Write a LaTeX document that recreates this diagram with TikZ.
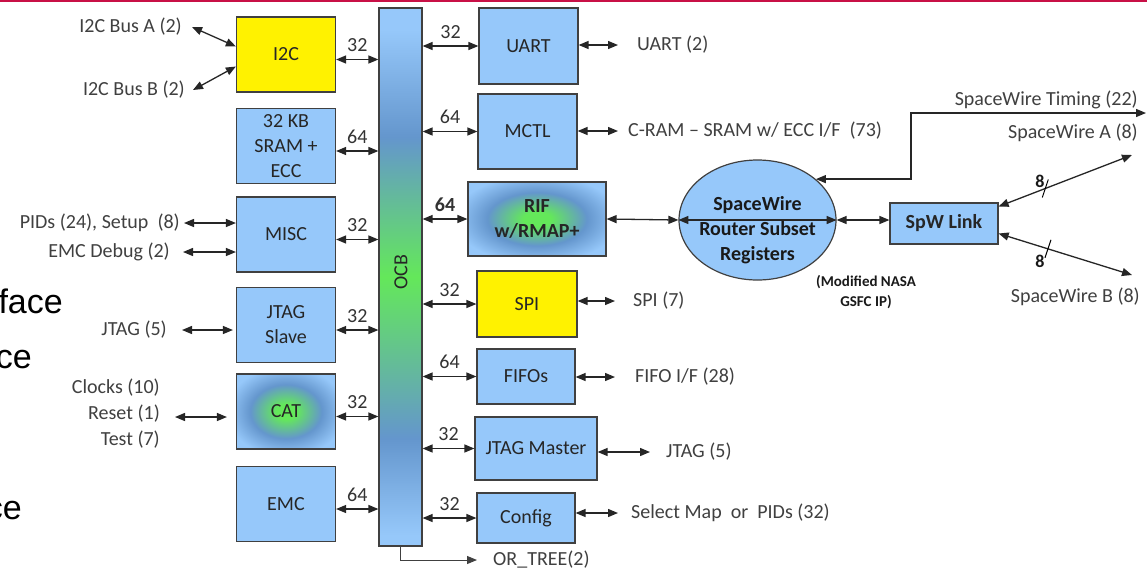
\documentclass[tikz,border=0pt]{standalone}
\usepackage{fontspec}
\setmainfont{Carlito}
\newfontfamily\slidefont{Liberation Sans}
\usetikzlibrary{arrows.meta,shapes.geometric,calc}

\definecolor{boxblue}{RGB}{150,200,250}
\definecolor{busblue}{RGB}{100,150,205}
\definecolor{busgreen}{RGB}{100,232,90}
\definecolor{boxline}{RGB}{64,64,64}
\definecolor{txtgray}{RGB}{64,64,64}
\definecolor{slidered}{RGB}{200,16,70}

\pgfdeclareverticalshading{ocbshade}{100bp}{color(0bp)=(boxblue); color(26bp)=(boxblue); color(35bp)=(busblue); color(50bp)=(busgreen); color(63bp)=(busblue); color(73bp)=(boxblue); color(100bp)=(boxblue)}
\pgfdeclareradialshading{glow}{\pgfpoint{0bp}{0bp}}{color(0bp)=(busgreen); color(5bp)=(busgreen); color(18bp)=(busblue); color(30bp)=(boxblue); color(50bp)=(boxblue)}

\tikzset{
  >={Triangle[length=10pt,width=8pt]},
  block/.style={draw=boxline, line width=1.2pt, fill=boxblue, inner sep=0pt, align=center,
    text=black!85, font=\fontsize{20}{25}\selectfont},
  lblock/.style={block, minimum width=99pt, minimum height=75pt},
  bus/.style={<->, line width=1.3pt, black!85},
  buswidth/.style={midway, above=6pt, inner sep=1pt, text=black!80, font=\fontsize{20}{24}\selectfont},
  lbl/.style={inner sep=0pt, text=txtgray, font=\fontsize{20}{26}\selectfont},
  boldtxt/.style={inner sep=0pt, text=black!90, align=center, font=\bfseries\fontsize{20}{25}\selectfont},
  slidetxt/.style={inner sep=0pt, anchor=base east, font=\slidefont\fontsize{34}{34}\selectfont}
}

\begin{document}
\begin{tikzpicture}[x=1pt, y=-1pt]
\def \xl {286}
\def \xb {400.5}

\useasboundingbox (0,0) rectangle (1147,571);
\clip (0,0) rectangle (1147,571);
\fill[white] (0,0) rectangle (1147,571);
\draw[slidered, line width=2.5pt] (0,1) -- (1147,1);

% slide text behind the picture
\node[slidetxt] (fraga) at (63,313) {face};
\node[slidetxt] (fragb) at (32,368) {ce};
\node[slidetxt] (fragc) at (22,519) {ce};

% OCB
\node[block, shade, shading=ocbshade, minimum width=43pt, minimum height=538pt] (ocb) at (\xb,277) {};
\node[lbl, rotate=90, text=black!85] (ocbtxt) at (401,272) {OCB};

% left column
\node[lblock, fill=yellow] (i2c) at (\xl,54.5) {I2C};
\node[lblock] (sram) at (\xl,146) {32 KB\\SRAM +\\ECC};
\node[lblock] (misc) at (\xl,234.5) {MISC};
\node[lblock] (jslave) at (\xl,325) {JTAG\\Slave};
\node[lblock, shade, shading=glow] (cat) at (\xl,411.5) {CAT};
\node[lblock] (emc) at (\xl,504) {EMC};

\foreach \blk/\wid in {i2c/32, sram/64, misc/32, jslave/32, cat/32, emc/64}
  \draw[bus] ([yshift=-5pt]\blk.east) -- ([yshift=-5pt]\blk.east -| ocb.west) node[buswidth] {\wid};

% left labels
\node[lbl, anchor=east] (busa) at (182,27) {I2C Bus A (2)};
\node[lbl, anchor=east] (busb) at (185,90) {I2C Bus B (2)};
\node[lbl, anchor=east] (pids) at (180,223) {PIDs (24), Setup~~(8)};
\node[lbl, anchor=east] (emcdbg) at (170,252) {EMC Debug (2)};
\node[lbl, anchor=east] (jtagl) at (167,330) {JTAG (5)};
\node[lbl, anchor=east, align=right] (catl) at (160,414) {Clocks (10)\\Reset (1)\\Test (7)};

\draw[bus] ([xshift=10pt]busa.east) -- ([yshift=8pt]i2c.west);
\draw[bus] ([xshift=8pt]busb.east) -- ([yshift=-12pt]i2c.west);
\draw[bus] ([xshift=4pt]pids.east) -- (pids.east -| misc.west);
\draw[bus] ([xshift=13pt]emcdbg.east) -- (emcdbg.east -| misc.west);
\draw[bus, shorten >=3pt] ([xshift=15pt]jtagl.east) -- (jtagl.east -| jslave.west);
\draw[bus, shorten >=9pt] ([xshift=15pt,yshift=-3pt]catl.east) -- ([yshift=-3pt]catl.east -| cat.west);

% right column
\node[block, minimum width=99pt, minimum height=76pt] (uart) at (528.5,46) {UART};
\node[block, minimum width=99pt, minimum height=75pt] (mctl) at (527.5,131.5) {MCTL};
\node[block, shade, shading=glow, minimum width=138pt, minimum height=74pt, font=\bfseries\fontsize{20}{25}\selectfont] (rif) at (537,219) {RIF\\w/RMAP+};
\node[block, fill=yellow, minimum width=100pt, minimum height=66pt] (spi) at (527,304) {SPI};
\node[block, minimum width=98pt, minimum height=55pt] (fifo) at (526,376.5) {FIFOs};
\node[block, minimum width=122pt, minimum height=63pt] (jmaster) at (536,448.5) {JTAG Master};
\node[block, minimum width=98pt, minimum height=50pt] (config) at (526,518) {Config};

\foreach \blk/\wid in {uart/32, mctl/64, spi/32, fifo/64, jmaster/32, config/32}
  \draw[bus] (\blk.west -| ocb.east) -- (\blk.west) node[buswidth] {\wid};
\draw[bus] (rif.west -| ocb.east) -- (rif.west) node[buswidth, font=\bfseries\fontsize{20}{24}\selectfont] {64};

% right labels
\node[lbl, anchor=west] (uartl) at (637,45) {UART (2)};
\node[lbl, anchor=west] (mctll) at (628,131) {C-RAM -- SRAM w/ ECC I/F~~(73)};
\node[lbl, anchor=west] (spil) at (633,301) {SPI (7)};
\node[lbl, anchor=west] (fifol) at (635,377) {FIFO I/F (28)};
\node[lbl, anchor=west] (jtagr) at (666,452) {JTAG (5)};
\node[lbl, anchor=west] (cfgl) at (631,513) {Select Map~~or~~PIDs (32)};
\node[lbl, anchor=west] (ortree) at (493,560) {OR\_TREE(2)};

\draw[bus, shorten >=19pt] (uart.east |- uartl.west) -- (uartl.west);
\draw[bus, shorten >=10pt] (mctl.east |- mctll.west) -- (mctll.west);
\draw[bus, shorten >=18pt] (spi.east |- spil.west) -- (spil.west);
\draw[bus, shorten >=20pt] (fifo.east |- fifol.west) -- (fifol.west);
\draw[bus, shorten >=16pt] (jmaster.east |- jtagr.west) -- (jtagr.west);
\draw[bus, shorten >=13pt] (config.east |- cfgl.west) -- (cfgl.west);
\draw[->, line width=1pt, black!75, shorten >=16pt] (ocb.south) |- (ortree.west);

% SpaceWire router
\node[draw=boxline, line width=1.2pt, fill=boxblue, ellipse, minimum width=157pt, minimum height=120pt, inner sep=0pt] (router) at (757.5,220) {};
\draw[bus] (router.west) -- (router.east);
\node[boldtxt] (routertxt) at (757.5,230) {SpaceWire\\Router Subset\\Registers};
\node[boldtxt, font=\bfseries\fontsize{15}{20}\selectfont] (nasa) at (866,292) {(Modified NASA\\GSFC IP)};
\node[block, minimum width=108pt, minimum height=41pt, font=\bfseries\fontsize{20}{25}\selectfont] (spw) at (944,223.5) {SpW Link};

\draw[bus] (rif.east) -- (router.west);
\draw[bus] (router.east) -- (router.east -| spw.west);

% timing
\coordinate (tbend) at (911,113);
\coordinate (tend) at (1146,113);
\draw[bus] (router.35) -| (tbend) -- (tend);
\node[lbl, anchor=east] (timel) at (1138,100) {SpaceWire Timing (22)};

% links
\coordinate (spwa) at (1132,155);
\coordinate (spwb) at (1132,275);
\draw[bus] ([yshift=17pt]spw.east) -- (spwa);
\draw[bus] ([yshift=-10pt]spw.east) -- (spwb);
\draw[line width=1pt] ($([yshift=17pt]spw.east)!0.35!(spwa)$) ++(-3,9) -- ++(6,-18);
\draw[line width=1pt] ($([yshift=-10pt]spw.east)!0.37!(spwb)$) ++(-3,9) -- ++(6,-18);
\node[boldtxt, font=\bfseries\fontsize{18}{20}\selectfont] (widtha) at (1040,181) {8};
\node[boldtxt, font=\bfseries\fontsize{18}{20}\selectfont] (widthb) at (1040,261) {8};
\node[lbl, anchor=east] (spwal) at (1138,133) {SpaceWire A (8)};
\node[lbl, anchor=east] (spwbl) at (1140,297) {SpaceWire B (8)};

\end{tikzpicture}
\end{document}
